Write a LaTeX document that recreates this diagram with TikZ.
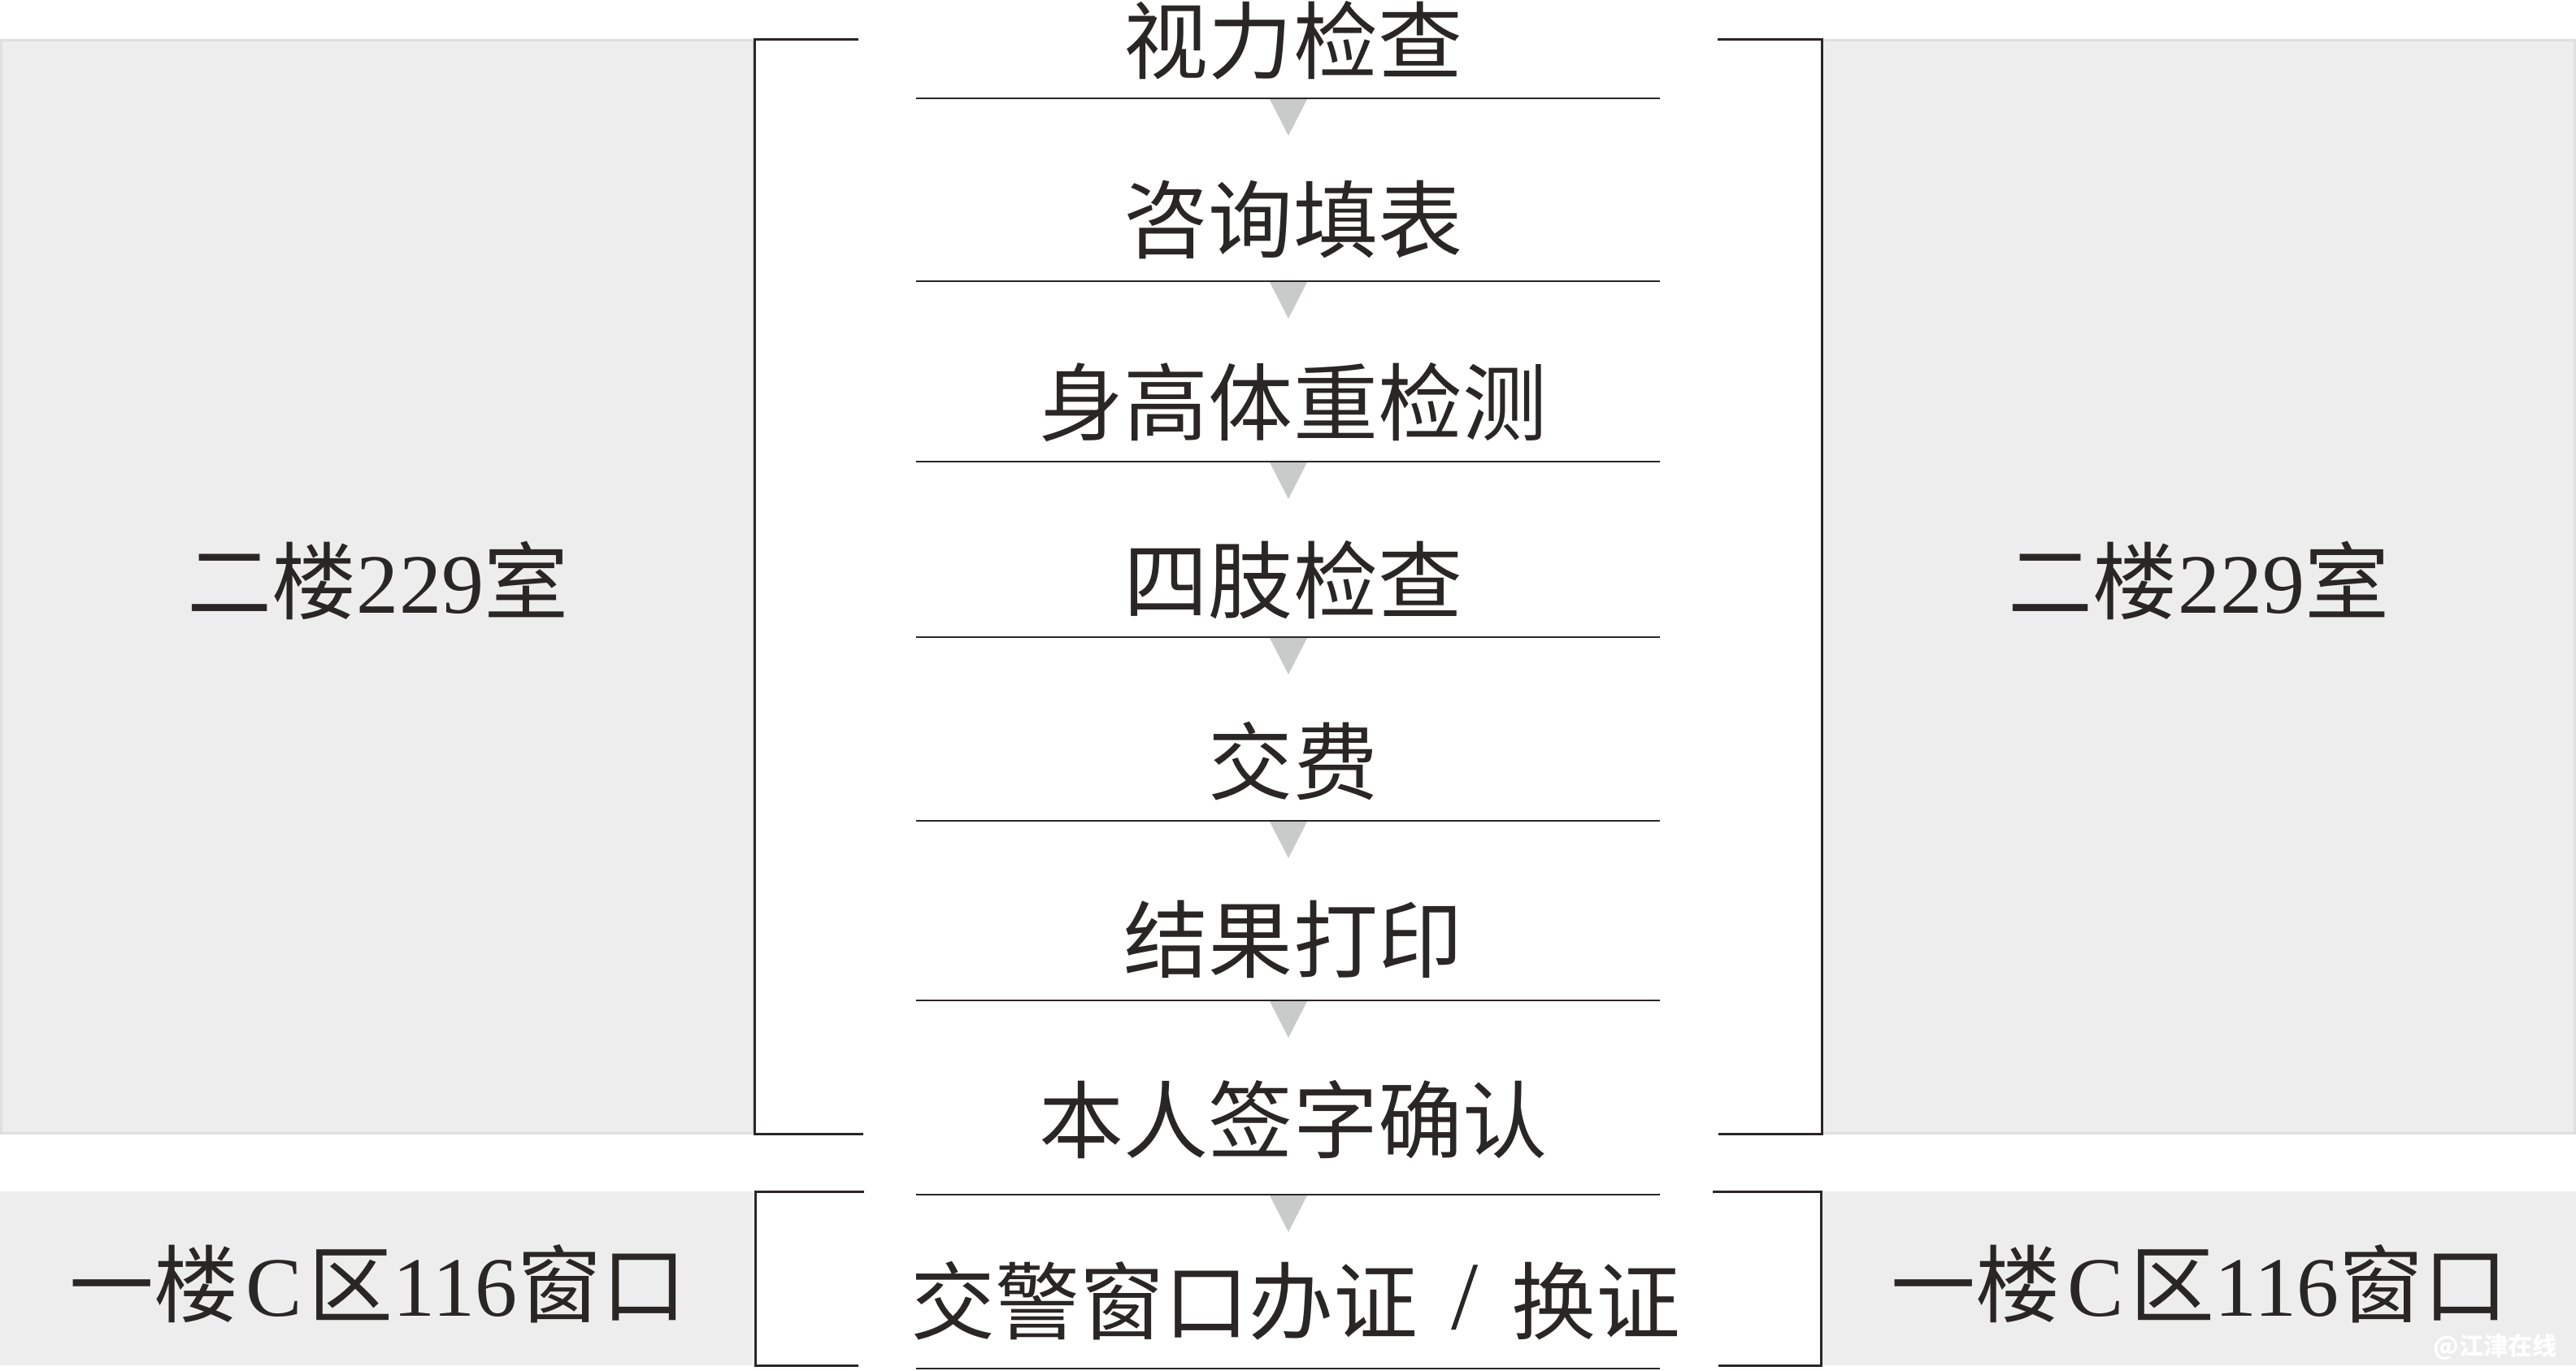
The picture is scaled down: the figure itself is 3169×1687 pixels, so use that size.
\documentclass[tikz,border=0pt]{standalone}
\usepackage{fontspec}
\newfontfamily\cjk{Noto Sans CJK SC}
\newfontfamily\lat{Liberation Serif}
\definecolor{ink}{HTML}{2B2626}
\definecolor{panel}{HTML}{EDEDED}
\definecolor{panelline}{HTML}{DFDFDF}
\definecolor{tri}{HTML}{C9CACA}
\tikzset{
  steptext/.style={inner sep=0pt, text=ink, font=\cjk\fontsize{29.6pt}{30pt}\selectfont},
  placetext/.style={inner sep=0pt, text=ink, font=\cjk\fontsize{29.6pt}{30pt}\selectfont},
  sepline/.style={draw=ink, line width=0.25mm},
  bracketline/.style={draw=ink, line width=0.3mm},
  tripointer/.style={fill=tri},
  panelbox/.style={fill=panel, draw=panelline, line width=0.3mm},
  panelflat/.style={fill=panel},
}
\begin{document}
\begin{tikzpicture}[x=0.1mm,y=-0.1mm]
\useasboundingbox (0,0) rectangle (3169,1687);
% panels
\path[panelbox] (1.5,49.5) rectangle (926,1394);
\path[panelbox] (2241,49.5) rectangle (3167.5,1394);
\path[panelflat] (0,1466) rectangle (926,1680);
\path[panelflat] (2241,1466) rectangle (3169,1680);
% brackets
\draw[bracketline] (1056,48) -- (928,48) -- (928,1395) -- (1062,1395);
\draw[bracketline] (2113,48) -- (2241,48) -- (2241,1395) -- (2114,1395);
\draw[bracketline] (1063,1466) -- (929,1466) -- (929,1680) -- (1056,1680);
\draw[bracketline] (2107,1466) -- (2240,1466) -- (2240,1680) -- (2114,1680);
% place labels
\node[placetext] (lup) at (465,714) {二楼{\lat 229}室};
\node[placetext] (rup) at (2705,714) {二楼{\lat 229}室};
\node[placetext] (llow) at (465,1580) {一楼\hspace{0.08em}{\lat C}\hspace{0.08em}区{\lat 116}窗口};
\node[placetext] (rlow) at (2706,1580) {一楼\hspace{0.08em}{\lat C}\hspace{0.08em}区{\lat 116}窗口};
% steps
\node[steptext] (s1) at (1591,50) {视力检查};
\node[steptext] (s2) at (1591,270) {咨询填表};
\node[steptext] (s3) at (1591,495) {身高体重检测};
\node[steptext] (s4) at (1591,714) {四肢检查};
\node[steptext] (s5) at (1591,937) {交费};
\node[steptext] (s6) at (1591,1156) {结果打印};
\node[steptext] (s7) at (1591,1378) {本人签字确认};
\node[steptext] (s8) at (1594,1601) {交警窗口办证\makebox[1.1em]{\raisebox{0.05em}{\lat\fontsize{34pt}{34pt}\selectfont /}}换证};
% separator lines and pointers
\foreach \y/\t in {121/1,346/1,568/1,784/1,1010/1,1231/1,1470/1,1684/0}{
  \draw[sepline] (1127,\y) coordinate (la\y) -- (2042,\y) coordinate (lb\y);
  \ifnum\t=1
    \fill[tripointer] (1562,\y+1) -- (1608,\y+1) -- (1585,\y+46) -- cycle;
  \fi
}
% watermark
\node[inner sep=0pt, text=white, font=\cjk\bfseries\fontsize{8.6pt}{9pt}\selectfont] (wm) at (3070,1657) {@江津在线};
\end{tikzpicture}
\end{document}
